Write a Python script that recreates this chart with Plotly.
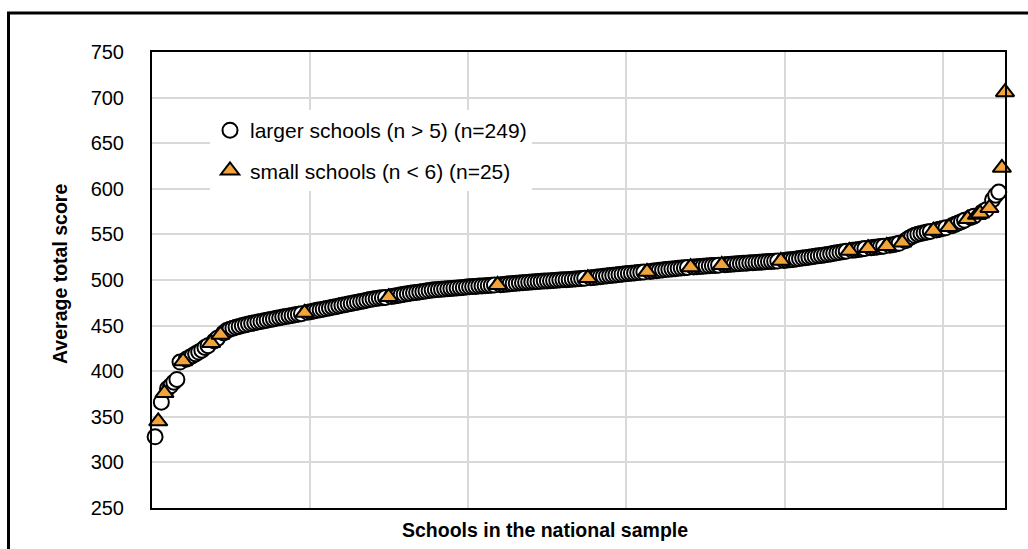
import numpy as np
import plotly.graph_objects as go

# ---------------- data ----------------
large_scores = [
    328, 366, 381, 384, 388, 391, 410,
    413, 415, 417, 419, 421, 423, 426, 428,
    433, 436,
    442.0, 444.5, 446.0, 447.2, 448.3, 449.1, 450.0, 450.8, 451.7, 452.5, 453.1, 453.9, 454.6,
    455.2, 456.0, 456.7, 457.3, 458.0, 458.6, 459.3, 459.9, 460.6, 461.2, 461.9, 462.5, 463.1,
    464.6, 465.3, 466.0, 466.7, 467.3, 468.0, 468.7, 469.4, 470.1, 470.8, 471.5, 472.2, 472.9,
    473.6, 474.3, 475.0, 475.7, 476.4, 477.1, 477.8, 478.5, 479.1, 479.7, 480.2, 480.6, 480.9,
    481.9, 482.5, 483.1, 483.7, 484.3, 484.9, 485.4, 485.9, 486.4, 486.9, 487.4, 487.9, 488.4,
    488.9, 489.2, 489.5, 489.8, 490.1, 490.4, 490.7, 491.0, 491.3, 491.6, 491.9, 492.2, 492.5,
    492.8, 493.0, 493.3, 493.5, 493.8, 494.0, 494.2, 494.4,
    494.9, 495.2, 495.5, 495.8, 496.1, 496.4, 496.7, 497.0, 497.3, 497.6, 497.9, 498.1, 498.3,
    498.6, 498.8, 499.0, 499.3, 499.5, 499.7, 500.0, 500.2, 500.4, 500.6, 500.9, 501.1, 501.3,
    501.6, 501.8,
    502.4, 502.8, 503.2, 503.6, 504.0, 504.4, 504.8, 505.2, 505.6, 506.0, 506.4, 506.8, 507.2,
    507.5, 507.8, 508.1, 508.4, 508.7,
    509.4, 509.8, 510.2, 510.6, 511.0, 511.4, 511.7, 512.0, 512.4, 512.8, 513.1, 513.4, 513.7,
    514.3, 514.5, 514.8, 515.0, 515.3, 515.5, 515.8, 516.0, 516.3,
    516.8, 517.0, 517.3, 517.5, 517.8, 518.0, 518.3, 518.5, 518.8, 519.0, 519.3, 519.5, 519.8,
    520.0, 520.2, 520.4, 520.6, 520.8,
    521.4, 521.8, 522.2, 522.6, 523.0, 523.5, 524.0, 524.5, 525.0, 525.5, 526.0, 526.5, 527.0,
    527.5, 528.0, 528.6, 529.2, 529.8, 530.4, 531.0, 531.5,
    532.5, 533.0, 533.5, 534.0, 534.5,
    535.4, 535.8, 536.2, 536.6, 537.0,
    538.0, 538.7, 539.4, 540.2,
    543.0, 545.5, 547.5, 549.0, 550.2, 551.0, 551.8, 552.5, 553.2,
    554.8, 555.6, 556.4, 557.2,
    559.5, 561.0, 562.5, 564.0, 565.5,
    568.5, 570.0,
    575.0, 577.0,
    588.0, 593.0, 596.5,
]
small_scores = [
    345, 376, 411, 431, 440, 464.0, 481.3, 494.6, 502.1, 509.0, 514.0, 516.5, 521.0,
    532.0, 535.0, 537.4, 541.0, 554.0, 558.0, 567.0, 571.5, 573.0, 579.0, 623.0, 706.0,
]
y_ticks = [250, 300, 350, 400, 450, 500, 550, 600, 650, 700, 750]
large_label = "larger schools (n > 5) (n=249)"
small_label = "small schools (n < 6) (n=25)"
x_title = "Schools in the national sample"
y_title = "Average total score"

# rank of every school in the combined national sample
all_scores = np.array(large_scores + small_scores, dtype=float)
order = np.argsort(all_scores, kind="stable")
ranks = np.empty(len(all_scores), dtype=int)
ranks[order] = np.arange(1, len(all_scores) + 1)
n_large = len(large_scores)
large_rank = ranks[:n_large]
small_rank = ranks[n_large:]
n_total = len(all_scores)

FONT = "Liberation Sans, Arial, sans-serif"
ORANGE = "#F2A33A"

fig = go.Figure()
fig.add_trace(go.Scatter(
    x=large_rank, y=large_scores, mode="markers", name=large_label,
    legendgroup="a", cliponaxis=False,
    marker=dict(symbol="circle", size=15, color="white",
                line=dict(color="black", width=2)),
))
fig.add_trace(go.Scatter(
    x=small_rank, y=small_scores, mode="markers", name=small_label,
    legendgroup="b", cliponaxis=False,
    marker=dict(symbol="triangle-up", size=16, color=ORANGE,
                line=dict(color="black", width=2)),
))

W, H = 1028, 549
ML, MR, MT, MB = 152, 23, 52, 41
pw, ph = W - ML - MR, H - MT - MB


def px_x(p):
    return (p - ML) / pw


def px_y(p):
    return (H - MB - p) / ph


fig.update_layout(
    width=W, height=H,
    margin=dict(l=ML, r=MR, t=MT, b=MB),
    paper_bgcolor="white", plot_bgcolor="white",
    font=dict(family=FONT, color="black"),
    showlegend=True,
    legend=dict(
        x=px_x(210), y=px_y(110), xanchor="left", yanchor="top",
        bgcolor="white", borderwidth=0,
        font=dict(family=FONT, size=21, color="black"),
        tracegroupgap=10, traceorder="grouped",
    ),
    xaxis=dict(
        range=[0, n_total], tick0=0, dtick=50.8,
        showticklabels=False, ticks="",
        showgrid=True, gridcolor="#d9d9d9", gridwidth=2,
        zeroline=False, showline=True, mirror=True,
        linecolor="black", linewidth=2,
    ),
    yaxis=dict(
        range=[250, 750], tickvals=y_ticks, ticktext=[str(v) for v in y_ticks],
        ticks="", ticklabelstandoff=22,
        tickfont=dict(family=FONT, size=20, color="black"),
        showgrid=True, gridcolor="#d9d9d9", gridwidth=2,
        zeroline=False, showline=True, mirror=True,
        linecolor="black", linewidth=2,
    ),
    annotations=[
        dict(text=f"<b>{y_title}</b>", xref="paper", yref="paper",
             x=px_x(60), y=px_y(274), textangle=-90, showarrow=False,
             xanchor="center", yanchor="middle",
             font=dict(family=FONT, size=19.5, color="black")),
        dict(text=f"<b>{x_title}</b>", xref="paper", yref="paper",
             x=px_x(545), y=px_y(530), showarrow=False,
             xanchor="center", yanchor="middle",
             font=dict(family=FONT, size=19.5, color="black")),
    ],
    shapes=[
        dict(type="line", xref="paper", yref="paper",
             x0=px_x(7), x1=px_x(1040), y0=px_y(13), y1=px_y(13),
             line=dict(color="black", width=3)),
        dict(type="line", xref="paper", yref="paper",
             x0=px_x(8.5), x1=px_x(8.5), y0=px_y(12), y1=px_y(560),
             line=dict(color="black", width=3)),
    ],
)

fig.write_html("out.html")
